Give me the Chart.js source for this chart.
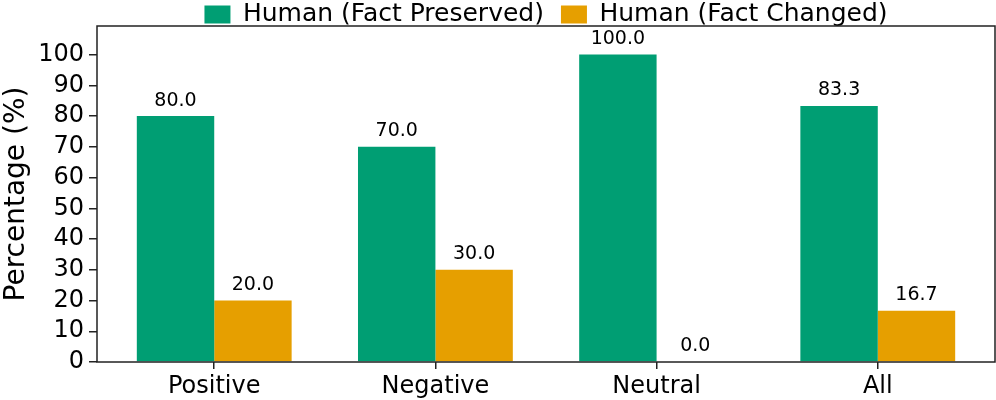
<!DOCTYPE html>
<html>
<head>
<meta charset="utf-8">
<script src="https://cdn.jsdelivr.net/npm/chart.js@4/dist/chart.umd.min.js"></script>
<style>
  html, body { margin: 0; padding: 0; background: #fff; }
  #wrap { width: 996px; height: 400px; }
</style>
</head>
<body>
<div id="wrap"><canvas id="grafico"></canvas></div>
<script>
const categorias = ['Positive', 'Negative', 'Neutral', 'All'];
const hechoPreservado = [80.0, 70.0, 100.0, 83.3];
const hechoCambiado = [20.0, 30.0, 0.0, 16.7];
const ticksY = [0, 10, 20, 30, 40, 50, 60, 70, 80, 90, 100];

const fuente = 'DejaVu Sans';

// dibuja el valor encima de cada barra
const etiquetasBarras = {
    id: 'etiquetasBarras',
    afterDatasetsDraw(chart) {
        const ctx = chart.ctx;
        ctx.save();
        ctx.font = '19px ' + fuente;
        ctx.fillStyle = '#000';
        ctx.textAlign = 'center';
        ctx.textBaseline = 'bottom';
        chart.data.datasets.forEach((ds, i) => {
            chart.getDatasetMeta(i).data.forEach((barra, j) => {
                ctx.fillText(ds.data[j].y.toFixed(1), barra.x, barra.y - 6);
            });
        });
        ctx.restore();
    }
};

// marco alrededor del area del grafico
const marco = {
    id: 'marco',
    afterDraw(chart) {
        const a = chart.chartArea;
        const ctx = chart.ctx;
        ctx.save();
        ctx.strokeStyle = '#222';
        ctx.lineWidth = 1.5;
        ctx.strokeRect(a.left, a.top, a.right - a.left, a.bottom - a.top);
        ctx.restore();
    }
};

// la leyenda queda encima del marco, casi pegada
const alturaLeyenda = {
    id: 'alturaLeyenda',
    beforeLayout(chart) {
        const lg = chart.legend;
        if (lg && !lg._ajustada) {
            const fitOriginal = lg.fit.bind(lg);
            lg.fit = function () { fitOriginal(); this.height = 41; };
            lg._ajustada = true;
        }
    }
};

new Chart(document.getElementById('grafico'), {
    type: 'bar',
    data: {
        datasets: [{
            label: 'Human (Fact Preserved)',
            data: hechoPreservado.map((v, i) => ({ x: i, y: v })),
            backgroundColor: '#009E73',
            categoryPercentage: 0.7,
            barPercentage: 1.0
        },
        {
            label: 'Human (Fact Changed)',
            data: hechoCambiado.map((v, i) => ({ x: i, y: v })),
            backgroundColor: '#E69F00',
            categoryPercentage: 0.7,
            barPercentage: 1.0
        }]
    },
    options: {
        responsive: true,
        maintainAspectRatio: false,
        animation: false,
        layout: { padding: { top: -15, right: 1 } },
        plugins: {
            legend: {
                position: 'top',
                fullSize: false,
                labels: {
                    boxWidth: 26,
                    boxHeight: 18,
                    padding: 17,
                    color: '#000',
                    font: { family: fuente, size: 25 }
                }
            },
            tooltip: { enabled: false }
        },
        scales: {
            x: {
                type: 'linear',
                offset: false,
                min: -0.53,
                max: 3.53,
                afterBuildTicks: (eje) => { eje.ticks = categorias.map((c, i) => ({ value: i })); },
                afterFit: (eje) => { eje.height = 38; },
                grid: { display: true, offset: false, drawOnChartArea: false, color: '#222', tickLength: 7, lineWidth: 1.5 },
                border: { display: false },
                ticks: {
                    color: '#000',
                    font: { family: fuente, size: 24 },
                    padding: 3,
                    autoSkip: false,
                    maxRotation: 0,
                    callback: (v) => categorias[v]
                }
            },
            y: {
                min: 0,
                max: 109.3,
                afterBuildTicks: (eje) => { eje.ticks = ticksY.map(v => ({ value: v })); },
                afterFit: (eje) => { eje.width = 97; },
                grid: { display: true, drawOnChartArea: false, color: '#222', tickLength: 8, lineWidth: 1.5 },
                border: { display: false },
                title: {
                    display: true,
                    text: 'Percentage (%)',
                    color: '#000',
                    font: { family: fuente, size: 28 },
                    padding: 0
                },
                ticks: {
                    color: '#000',
                    font: { family: fuente, size: 24 },
                    padding: 5
                }
            }
        }
    },
    plugins: [etiquetasBarras, marco, alturaLeyenda]
});
</script>
</body>
</html>
